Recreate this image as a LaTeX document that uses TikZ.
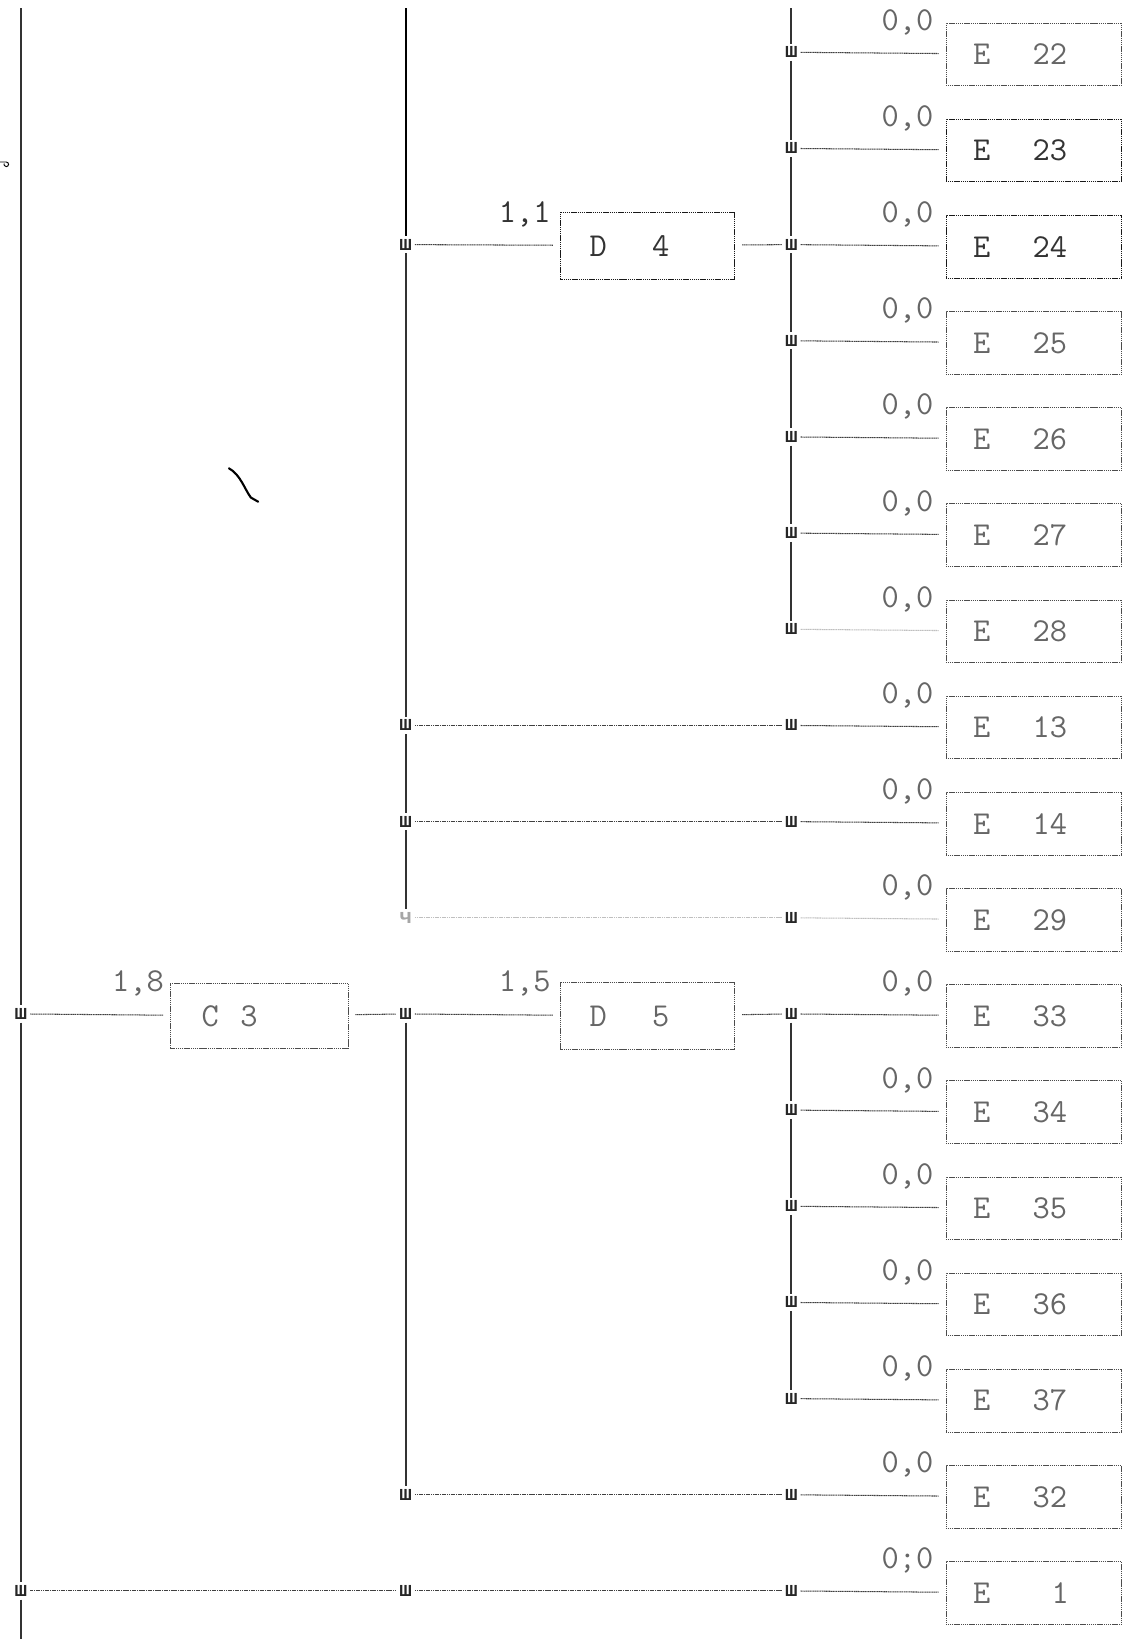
\documentclass[tikz,border=0pt]{standalone}
\usepackage{fontspec}
\newfontfamily\jf{Liberation Mono}
\newcommand\dm{\ttfamily\fontsize{32}{32}\selectfont\addfontfeatures{LetterSpace=6}}
\newcommand\lead[2]{\makebox[#1][l]{#2}}
\begin{document}
\begin{tikzpicture}[x=1pt,y=-1pt]
\useasboundingbox[fill=white] (0,0) rectangle (1081,1568);
\tikzset{
  basebox/.style={draw=black!70, line width=0.9pt, dash pattern=on 1.2pt off 0.6pt,
    inner xsep=26pt, inner ysep=0pt, align=left, outer sep=7pt,
    text=black!60, font=\dm},
  ebox/.style={basebox, text width=116pt, minimum height=60pt},
  dbox/.style={basebox, text width=115pt, minimum height=64pt},
  cbox/.style={basebox, text width=118pt, minimum height=62pt},
  lab/.style={anchor=base east, inner sep=0pt, text=black!60, font=\dm},
  junc/.style={inner sep=0pt, outer sep=3pt, text=black!85, font=\jf\bfseries\fontsize{20}{20}\selectfont},
  vl/.style={draw=black!80, line width=1.8pt},
  hl/.style={draw=black!75, line width=1pt, dash pattern=on 1.2pt off 0.5pt},
  faint/.style={draw=black!25, text=black!35},
  dark/.style={draw=black!90, text=black!80},
  plain/.style={}
}
% top ends of buses
\coordinate (topL) at (20,8);
\coordinate (topM) at (388,8);
\coordinate (topR) at (757,8);
\coordinate (botL) at (20,1568);

% E boxes with right junctions
\foreach \i/\n/\w/\l/\s in {0/22/57pt/{0,0}/plain,1/23/57pt/{0,0}/dark,2/24/57pt/{0,0}/dark,
  3/25/57pt/{0,0}/plain,4/26/57pt/{0,0}/plain,5/27/57pt/{0,0}/plain,6/28/57pt/{0,0}/plain,
  7/13/57pt/{0,0}/plain,8/14/57pt/{0,0}/plain,9/29/57pt/{0,0}/plain,10/33/57pt/{0,0}/plain,
  11/34/57pt/{0,0}/plain,12/35/57pt/{0,0}/plain,13/36/57pt/{0,0}/plain,14/37/57pt/{0,0}/plain,
  15/32/57pt/{0,0}/plain,16/1/75pt/{0;0}/plain} {
  \pgfmathsetmacro\yy{50+92*\i}
  \node[ebox,\s] (E\n) at (989,\yy+2) {\lead{\w}{E}\n};
  \node[lab] (lab\n) at (893,\yy-21) {\l};
  \node[junc] (R\i) at (757,\yy) {ш};
}
\foreach \i/\n in {0/22,1/23,2/24,3/25,4/26,5/27,7/13,8/14,10/33,11/34,12/35,13/36,14/37,15/32,16/1}
  \draw[hl] (R\i) -- (E\n);
\draw[hl,faint] (R6) -- (E28);
\draw[hl,faint] (R9) -- (E29);

% middle junctions
\foreach \i in {2,7,8,10,15,16} {
  \pgfmathsetmacro\yy{50+92*\i}
  \node[junc] (M\i) at (388,\yy) {ш};
}
\node[junc,text=black!35] (M9) at (388,878) {ч};
% left junctions
\node[junc] (L10) at (20,970) {ш};
\node[junc] (L16) at (20,1522) {ш};

% D and C boxes
\node[dbox,dark] (D4) at (619.5,235) {\hspace{2pt}\lead{60pt}{D}4};
\node[dbox] (D5) at (619.5,972) {\hspace{2pt}\lead{60pt}{D}5};
\node[cbox] (C3) at (248,972) {\hspace{4pt}\lead{37pt}{C}3};
\node[lab,text=black!80] (l11) at (527,213) {1,1};
\node[lab] (l15) at (527,949) {1,5};
\node[lab] (l18) at (157,949) {1,8};

% vertical buses
\draw[vl] (topL) -- (L10);
\draw[vl] (L10) -- (L16);
\draw[vl] (L16) -- (botL);
\draw[vl,draw=black] (topM) -- (M2);
\draw[vl] (M2) -- (M7);
\draw[vl] (M7) -- (M8);
\draw[vl] (M8) -- (M9);
\draw[vl] (M10) -- (M15);
\draw[vl] (topR) -- (R0);
\foreach \a/\b in {0/1,1/2,2/3,3/4,4/5,5/6,10/11,11/12,12/13,13/14}
  \draw[vl] (R\a) -- (R\b);

% horizontal connectors
\draw[hl] (M2) -- (D4);
\draw[hl] (D4) -- (R2);
\draw[hl] (M7) -- (R7);
\draw[hl] (M8) -- (R8);
\draw[hl,faint] (M9) -- (R9);
\draw[hl] (L10) -- (C3);
\draw[hl] (C3) -- (M10);
\draw[hl] (M10) -- (D5);
\draw[hl] (D5) -- (R10);
\draw[hl] (M15) -- (R15);
\draw[hl] (L16) -- (M16);
\draw[hl] (M16) -- (R16);

% pen marks on the sheet
\draw[line width=2pt, line cap=round] (219,448) .. controls (230,454) and (234,468) .. (240,476) -- (247,480);
\draw[line width=0.9pt] (0,155) -- (6,155) arc[start angle=-90, end angle=200, radius=2.2];
\end{tikzpicture}
\end{document}
